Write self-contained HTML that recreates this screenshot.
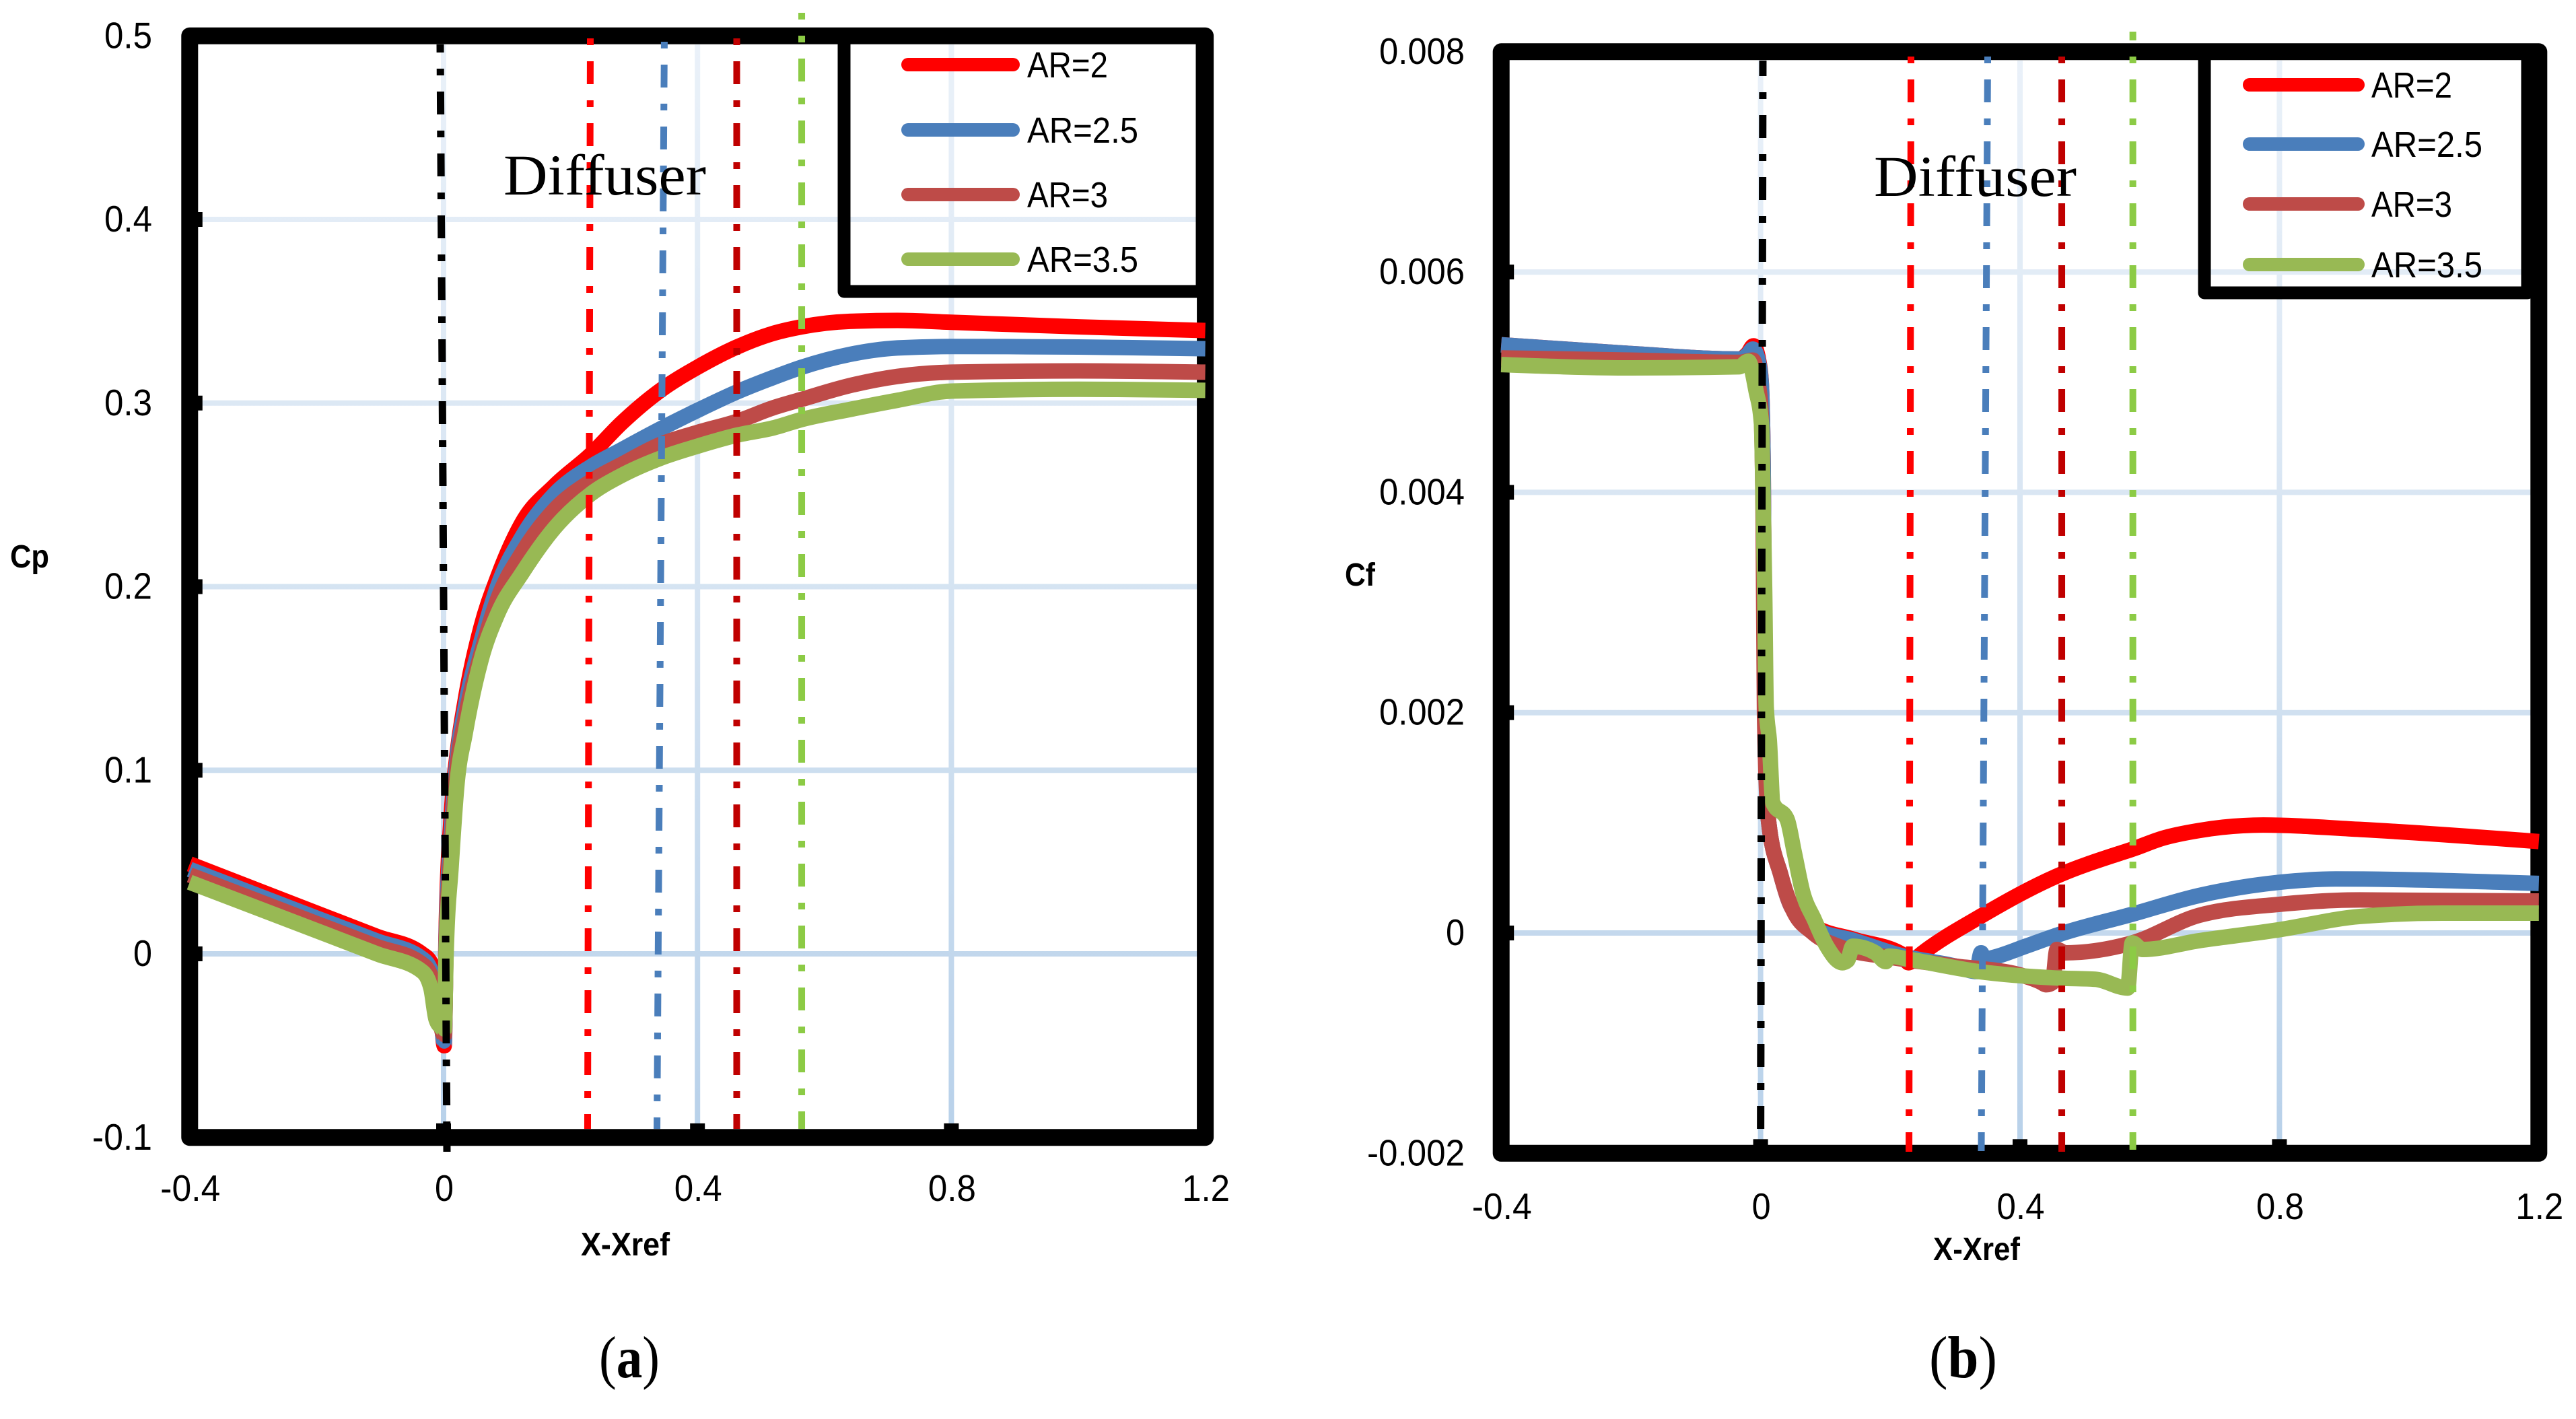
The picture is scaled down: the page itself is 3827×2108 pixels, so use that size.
<!DOCTYPE html>
<html lang="en">
<head>
<meta charset="utf-8">
<title>Cp and Cf along diffuser</title>
<style>
html,body{margin:0;padding:0;background:#fff;}
svg{display:block;}
text{font-family:"Liberation Sans",sans-serif;fill:#000;}
.tick{font-size:55px;}
.title{font-size:48px;font-weight:bold;}
.leg{font-size:54px;}
.dif{font-family:"Liberation Serif",serif;font-size:86px;}
.cap{font-family:"Liberation Serif",serif;font-size:88px;}
</style>
</head>
<body>
<svg id="figure" xmlns="http://www.w3.org/2000/svg" width="3827" height="2108" viewBox="0 0 3827 2108">
  <rect x="0" y="0" width="3827" height="2108" fill="#fff"/>
  <defs>
    <linearGradient id="gridA" gradientUnits="userSpaceOnUse" x1="0" y1="60" x2="0" y2="1690">
      <stop offset="0" stop-color="#EAF1F9"/><stop offset="0.55" stop-color="#D3E2F1"/><stop offset="1" stop-color="#B8D1EA"/>
    </linearGradient>
    <linearGradient id="gridB" gradientUnits="userSpaceOnUse" x1="0" y1="85" x2="0" y2="1710">
      <stop offset="0" stop-color="#EAF1F9"/><stop offset="0.55" stop-color="#D3E2F1"/><stop offset="1" stop-color="#B8D1EA"/>
    </linearGradient>
  </defs>
  <g id="chartA"></g>
  <g id="chartB"></g>
</svg>
<script>
// ---------- Chart (a): Cp ----------
const cpXTicks = [-0.4, 0, 0.4, 0.8, 1.2];
const cpYTicks = [-0.1, 0, 0.1, 0.2, 0.3, 0.4, 0.5];
const cpXTickLabels = ['-0.4', '0', '0.4', '0.8', '1.2'];
const cpYTickLabels = ['-0.1', '0', '0.1', '0.2', '0.3', '0.4', '0.5'];
const cpX = [-0.4, -0.2, -0.105, -0.034, -0.02, -0.012, -0.004, 0.001, 0.004, 0.012, 0.021, 0.034, 0.059, 0.085, 0.124, 0.175, 0.232, 0.28, 0.342, 0.4, 0.462, 0.52, 0.564, 0.64, 0.715, 0.8, 1.0, 1.2];
const cpAR2 = [0.049, 0.0222, 0.0095, 0, -0.005, -0.014, -0.033, -0.05, 0.012, 0.075, 0.108, 0.138, 0.178, 0.205, 0.235, 0.255, 0.272, 0.289, 0.307, 0.3195, 0.3305, 0.338, 0.3415, 0.3445, 0.345, 0.344, 0.3415, 0.3395];
const cpAR25 = [0.046, 0.0195, 0.007, -0.0025, -0.009, -0.02, -0.037, -0.048, 0.008, 0.065, 0.105, 0.134, 0.17, 0.2, 0.2273, 0.2505, 0.2654, 0.2745, 0.286, 0.296, 0.306, 0.314, 0.3195, 0.3265, 0.33, 0.3308, 0.3305, 0.3296];
const cpAR3 = [0.043, 0.0165, 0.004, -0.0055, -0.012, -0.025, -0.04, -0.0445, 0.004, 0.056, 0.1, 0.128, 0.1635, 0.193, 0.2186, 0.242, 0.2574, 0.2665, 0.2775, 0.284, 0.29, 0.2975, 0.302, 0.3095, 0.3145, 0.3168, 0.3175, 0.3168];
const cpAR35 = [0.039, 0.0126, 0, -0.0095, -0.0187, -0.0355, -0.04, -0.0415, 0, 0.048, 0.092, 0.12, 0.16, 0.185, 0.2075, 0.232, 0.2505, 0.2605, 0.27, 0.2765, 0.2825, 0.2865, 0.291, 0.2965, 0.3015, 0.3065, 0.3075, 0.3069];
const cpBoundaryTopX = [-0.0053, 0.2312, 0.3478, 0.4618, 0.5642];
const cpBoundaryBottomX = [0.0053, 0.2269, 0.3362, 0.4618, 0.5642];

// ---------- Chart (b): Cf ----------
const cfXTicks = [-0.4, 0, 0.4, 0.8, 1.2];
const cfYTicks = [-0.002, 0, 0.002, 0.004, 0.006, 0.008];
const cfXTickLabels = ['-0.4', '0', '0.4', '0.8', '1.2'];
const cfYTickLabels = ['-0.002', '0', '0.002', '0.004', '0.006', '0.008'];
const cfAR2X = [-0.4, -0.2, -0.033, -0.02, -0.011, -0.003, 0.001, 0.004, 0.006, 0.008, 0.012, 0.031, 0.049, 0.083, 0.145, 0.22, 0.228, 0.235, 0.25, 0.336, 0.462, 0.552, 0.573, 0.62, 0.676, 0.775, 0.924, 1.2];
const cfAR2Y = [0.00534, 0.00526, 0.00521, 0.00526, 0.00533, 0.0052, 0.005, 0.0042, 0.0026, 0.00175, 0.00103, 0.00053, 0.00022, 0.00006, -0.00006, -0.0002, -0.00027, -0.00025, -0.00018, 0.00014, 0.00053, 0.00072, 0.00076, 0.00086, 0.00093, 0.00098, 0.00094, 0.00083];
const cfAR25X = [-0.4, -0.2, -0.033, -0.02, -0.012, -0.003, 0.001, 0.004, 0.006, 0.008, 0.012, 0.031, 0.049, 0.083, 0.145, 0.22, 0.3, 0.333, 0.34, 0.345, 0.36, 0.409, 0.462, 0.573, 0.676, 0.8, 0.887, 1.2];
const cfAR25Y = [0.00534, 0.00526, 0.00521, 0.00525, 0.0053, 0.00518, 0.00499, 0.0042, 0.0026, 0.00175, 0.00103, 0.00053, 0.00022, 0.00004, -0.00007, -0.00021, -0.0003, -0.00035, -0.00018, -0.00024, -0.00022, -0.00012, -0.00001, 0.00017, 0.00034, 0.00046, 0.00049, 0.00045];
const cfAR3X = [-0.4, -0.2, -0.033, -0.012, -0.004, 0.001, 0.004, 0.006, 0.012, 0.031, 0.049, 0.081, 0.124, 0.2, 0.3, 0.4, 0.43, 0.441, 0.45, 0.457, 0.47, 0.573, 0.676, 0.8, 0.924, 1.2];
const cfAR3Y = [0.00522, 0.0052, 0.00518, 0.0052, 0.005, 0.0047, 0.0037, 0.002, 0.00103, 0.00053, 0.00022, 0, -0.00013, -0.00022, -0.0003, -0.00038, -0.00044, -0.00047, -0.00045, -0.00015, -0.00018, -0.00009, 0.00016, 0.00026, 0.0003, 0.00029];
const cfAR35X = [-0.4, -0.2, -0.033, -0.019, -0.007, 0.0014, 0.0027, 0.0046, 0.0063, 0.0087, 0.0134, 0.019, 0.041, 0.052, 0.065, 0.083, 0.102, 0.126, 0.134, 0.142, 0.177, 0.193, 0.198, 0.23, 0.336, 0.462, 0.516, 0.566, 0.573, 0.589, 0.676, 0.8, 0.924, 1.05, 1.2];
const cfAR35Y = [0.00516, 0.00513, 0.00514, 0.00519, 0.00492, 0.00462, 0.00431, 0.0037, 0.0031, 0.00205, 0.00175, 0.00118, 0.00103, 0.00073, 0.00037, 0.00012, -0.00012, -0.00027, -0.00025, -0.00012, -0.00018, -0.00026, -0.00021, -0.00024, -0.00035, -0.00041, -0.00042, -0.0005, -0.00009, -0.00015, -0.00007, 0.00003, 0.00015, 0.00018, 0.00018];
const cfBoundaryTopX = [0.0035, 0.2319, 0.3502, 0.4644, 0.574];
const cfBoundaryBottomX = [0, 0.2288, 0.3403, 0.4644, 0.574];

const legendNames = ['AR=2', 'AR=2.5', 'AR=3', 'AR=3.5'];
const seriesColors = ['#FF0000', '#4A7EBB', '#BE4B48', '#98B954'];
const boundaryColors = ['#000000', '#FF0000', '#4A7EBB', '#C00000', '#8CCB45'];
const boundaryNames = ['inlet', 'ar2-end', 'ar25-end', 'ar3-end', 'ar35-end'];

const NS = 'http://www.w3.org/2000/svg';
function make(parent, tag, attrs, content) {
  const node = document.createElementNS(NS, tag);
  for (const key in attrs) node.setAttribute(key, attrs[key]);
  if (content !== undefined) node.textContent = content;
  parent.appendChild(node);
  return node;
}
function labelWidth(label) {
  let w = 0;
  for (const ch of label) w += ch === '.' ? 15 : ch === '-' ? 18 : 28;
  return w;
}
// Monotone cubic through the points (no overshoot at the jumps)
function monotonePath(px, py) {
  const n = px.length;
  const slope = [];
  for (let i = 0; i < n - 1; i++) slope.push((py[i + 1] - py[i]) / (px[i + 1] - px[i]));
  const tan = new Array(n).fill(0);
  for (let i = 1; i < n - 1; i++) {
    const h0 = px[i] - px[i - 1], h1 = px[i + 1] - px[i];
    const p = (slope[i - 1] * h1 + slope[i] * h0) / (h0 + h1);
    tan[i] = (Math.sign(slope[i - 1]) + Math.sign(slope[i])) * Math.min(Math.abs(slope[i - 1]), Math.abs(slope[i]), 0.5 * Math.abs(p));
  }
  tan[0] = (3 * slope[0] - tan[1]) / 2;
  tan[n - 1] = (3 * slope[n - 2] - tan[n - 2]) / 2;
  let d = 'M' + px[0].toFixed(2) + ' ' + py[0].toFixed(2);
  for (let i = 0; i < n - 1; i++) {
    const dx = (px[i + 1] - px[i]) / 3;
    d += 'C' + (px[i] + dx).toFixed(2) + ' ' + (py[i] + dx * tan[i]).toFixed(2) + ' ' +
         (px[i + 1] - dx).toFixed(2) + ' ' + (py[i + 1] - dx * tan[i + 1]).toFixed(2) + ' ' +
         px[i + 1].toFixed(2) + ' ' + py[i + 1].toFixed(2);
  }
  return d;
}

function drawChart(root, cfg) {
  const sx = v => cfg.x0 + v * cfg.kx;
  const sy = v => cfg.y0 - v * cfg.ky;
  const left = sx(-0.4), right = sx(1.2), top = sy(cfg.yMax), bottom = sy(cfg.yMin);
  const inner = { l: left + 11, r: right - 11, t: top + 13, b: bottom - 13 };

  // gridlines
  cfg.yTicks.forEach(v => {
    if (v === cfg.yMax || v === cfg.yMin) return;
    const g = make(root, 'line', { x1: inner.l, x2: inner.r, y1: sy(v), y2: sy(v), stroke: cfg.grid, 'stroke-width': 8 });
    
    
  });
  cfg.xTicks.forEach(v => {
    if (v === -0.4 || v === 1.2) return;
    const g = make(root, 'line', { x1: sx(v), x2: sx(v), y1: inner.t, y2: inner.b, stroke: cfg.grid, 'stroke-width': 8 });
    
    
  });

  // frame
  const frame = make(root, 'rect', { x: left, y: top, width: right - left, height: bottom - top, fill: 'none', stroke: '#000', 'stroke-width': 25, 'stroke-linejoin': 'round' });
  
  

  // ticks and tick labels
  cfg.yTicks.forEach((v, i) => {
    if (v !== cfg.yMax && v !== cfg.yMin) {
      const t = make(root, 'rect', { x: left, y: sy(v) - 11, width: 19, height: 22, fill: '#000' });
      
      
    }
    const label = cfg.yLabels[i];
    const txt = make(root, 'text', { class: 'tick', x: cfg.yLabelEnd, y: sy(v) + 18, 'text-anchor': 'end', textLength: labelWidth(label), lengthAdjust: 'spacingAndGlyphs' }, label);
    
    
  });
  cfg.xTicks.forEach((v, i) => {
    if (v !== -0.4 && v !== 1.2) {
      const t = make(root, 'rect', { x: sx(v) - 11, y: inner.b - 8, width: 22, height: 20, fill: '#000' });
      
      
    }
    const label = cfg.xLabels[i];
    const txt = make(root, 'text', { class: 'tick', x: sx(v) + 1, y: cfg.xLabelBase, 'text-anchor': 'middle', textLength: labelWidth(label), lengthAdjust: 'spacingAndGlyphs' }, label);
    
    
  });

  // legend box
  const L = cfg.legend;
  const box = make(root, 'rect', { x: L.x, y: top, width: L.right - L.x, height: L.bottom - top, fill: 'none', stroke: '#000', 'stroke-width': 19, 'stroke-linejoin': 'round' });
  
  

  // series
  cfg.series.forEach((s, i) => {
    const d = monotonePath(s.x.map(sx), s.y.map(sy));
    const line = make(root, 'path', { d: d, fill: 'none', stroke: seriesColors[i], 'stroke-width': cfg.lineWidth, 'stroke-linejoin': 'round', 'stroke-linecap': 'butt' });
    
    
  });
  // round dips at the throat of chart (a)
  if (cfg.series[0].x[7] === 0.001) {
    cfg.series.forEach((s, i) => {
      const dip = make(root, 'circle', { cx: sx(s.x[7]), cy: sy(s.y[7]), r: 10, fill: seriesColors[i] });
      
      
    });
  }

  // boundary lines
  cfg.boundaryTop.forEach((xv, i) => {
    const yTop = cfg.bTopY[i], yBot = cfg.bBottomY[i];
    const line = make(root, 'line', {
      x1: sx(xv), x2: sx(cfg.boundaryBottom[i]), y1: yTop, y2: yBot,
      stroke: boundaryColors[i], 'stroke-width': i === 0 ? 11 : 10,
      'stroke-dasharray': '10 24 34 24', 'stroke-dashoffset': cfg.bOffset[i]
    });
    
    
  });

  // legend entries
  legendNames.forEach((name, i) => {
    const y = L.rows[i];
    const sample = make(root, 'line', { x1: L.sx1, x2: L.sx2, y1: y, y2: y, stroke: seriesColors[i], 'stroke-width': 20, 'stroke-linecap': 'round' });
    
    
    const txt = make(root, 'text', { class: 'leg', x: L.tx, y: y + 19, textLength: name.length > 4 ? 165 : 120, lengthAdjust: 'spacingAndGlyphs' }, name);
    
    
  });

  // annotation, axis titles, caption
  const dif = make(root, 'text', { class: 'dif', x: cfg.dif[0], y: cfg.dif[1], textLength: 301, lengthAdjust: 'spacingAndGlyphs' }, 'Diffuser');
  
  
  const yt = make(root, 'text', { class: 'title', x: cfg.yTitle[0], y: cfg.yTitle[1], textLength: cfg.yTitle[3], lengthAdjust: 'spacingAndGlyphs' }, cfg.yTitle[2]);
  
  
  const xt = make(root, 'text', { class: 'title', x: cfg.xTitle[0], y: cfg.xTitle[1], textLength: cfg.xTitle[2], lengthAdjust: 'spacingAndGlyphs' }, 'X-Xref');
  
  
  const cap = make(root, 'text', { class: 'cap', x: cfg.cap[0], y: 2046, textLength: cfg.cap[2], lengthAdjust: 'spacingAndGlyphs' });
  
  
  make(cap, 'tspan', {}, '(');
  make(cap, 'tspan', { 'font-weight': 'bold' }, cfg.cap[1]);
  make(cap, 'tspan', {}, ')');
}

drawChart(document.getElementById('chartA'), {
  x0: 659, kx: 943, y0: 1417, ky: 2727.5, yMax: 0.5, yMin: -0.1, lineWidth: 23,
  xTicks: cpXTicks, yTicks: cpYTicks, xLabels: cpXTickLabels, yLabels: cpYTickLabels,
  grid: 'url(#gridA)', yLabelEnd: 226, xLabelBase: 1784,
  legend: { x: 1254, right: 1786, bottom: 433, sx1: 1349, sx2: 1505, tx: 1526, rows: [96, 193, 289, 385] },
  series: [
    { x: cpX, y: cpAR2 }, { x: cpX, y: cpAR25 }, { x: cpX, y: cpAR3 }, { x: cpX, y: cpAR35 }
  ],
  boundaryTop: cpBoundaryTopX, boundaryBottom: cpBoundaryBottomX,
  bTopY: [66, 52, 57, 52, 19], bBottomY: [1711, 1677, 1677, 1677, 1677], bOffset: [56, 87, 87, 87, 58],
  dif: [748, 289], yTitle: [15, 843, 'Cp', 58], xTitle: [863, 1865, 132], cap: [890, 'a', 90]
});

drawChart(document.getElementById('chartB'), {
  x0: 2615.6, kx: 963.5, y0: 1386, ky: 163650, yMax: 0.008, yMin: -0.002, lineWidth: 23,
  xTicks: cfXTicks, yTicks: cfYTicks, xLabels: cfXTickLabels, yLabels: cfYTickLabels,
  grid: 'url(#gridB)', yLabelEnd: 2176, xLabelBase: 1811,
  legend: { x: 3275, right: 3755, bottom: 435, sx1: 3342, sx2: 3503, tx: 3523, rows: [126, 214, 303, 393] },
  series: [
    { x: cfAR2X, y: cfAR2Y }, { x: cfAR25X, y: cfAR25Y }, { x: cfAR3X, y: cfAR3Y }, { x: cfAR35X, y: cfAR35Y }
  ],
  boundaryTop: cfBoundaryTopX, boundaryBottom: cfBoundaryBottomX,
  bTopY: [90, 84, 84, 84, 47], bBottomY: [1700, 1711, 1710, 1711, 1708], bOffset: [45, 0, 0, 0, 55],
  dif: [2784, 291], yTitle: [1998, 870, 'Cf', 45], xTitle: [2872, 1872, 129], cap: [2866, 'b', 101]
});
</script>
</body>
</html>
